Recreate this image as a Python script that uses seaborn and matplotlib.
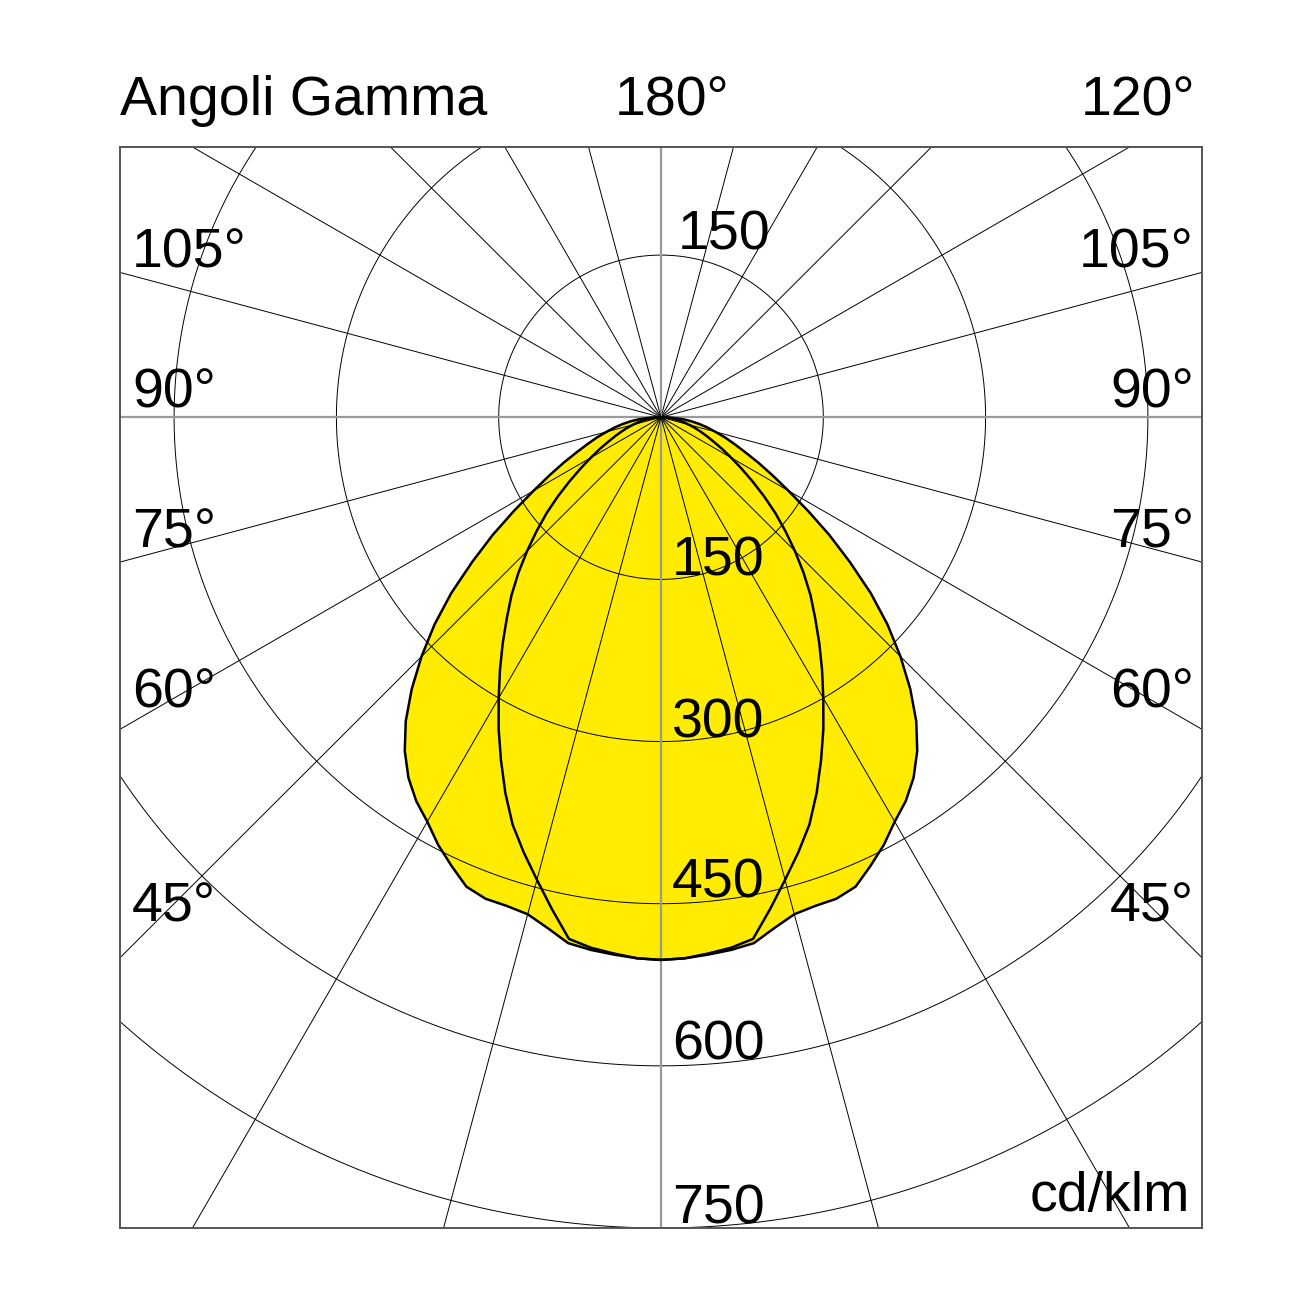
"""Photometric polar diagram (Angoli Gamma, cd/klm) redrawn with seaborn/matplotlib."""
import matplotlib

matplotlib.use("Agg")
import matplotlib.pyplot as plt
import numpy as np
import pandas as pd
import seaborn as sns

# gamma angles (deg) for one half of each plane, curves are mirrored left/right
gamma = [0, 2.5, 5, 7.5, 10, 12.5, 15, 17.5, 20, 22.5, 25, 27.5, 30, 32.5, 35, 37.5, 40, 42.5, 45,
         47.5, 50, 52.5, 55, 57.5, 60, 62.5, 65, 67.5, 70, 72.5, 75, 77.5, 80, 82.5, 85, 87.5, 90]
# wide curve (C0-C180)
c0_values = [502, 501, 499, 497, 494, 484, 476, 474, 474, 470, 458, 446, 432, 421, 407, 389, 367, 341, 313,
             284, 253, 220, 190, 161, 136, 116, 99, 84, 72, 62, 52, 44, 36, 28, 20, 10, 0]
# narrow curve (C90-C270)
c90_values = [502, 501, 498, 495, 490, 466, 443, 422, 401, 376, 350, 325, 300, 277, 255, 234, 215, 195, 175,
              156, 138, 120, 103, 88, 75, 64, 54, 46, 39, 33, 27, 22, 17, 12, 8, 4, 0]

rings = [150, 300, 450, 600, 750]
ring_labels = ["150", "300", "450", "600", "750"]
spoke_step = 15

angle_labels = ["105°", "90°", "75°", "60°", "45°"]
# baselines of the side angle labels, in pixels from the top of the image
angle_label_rows = [268, 407, 547, 707, 922]

W = H = 1302
YELLOW = "#FFEC00"


def polar_xy(g_deg, r):
    g = np.radians(g_deg)
    return np.asarray(r) * np.sin(g), -np.asarray(r) * np.cos(g)


def closed_curve(values):
    g = np.concatenate([-np.array(gamma[::-1]), np.array(gamma[1:])])
    r = np.concatenate([np.array(values[::-1]), np.array(values[1:])])
    x, y = polar_xy(g, r)
    return pd.DataFrame({"x": x, "y": y})


sns.set_style("white")
plt.rcParams["font.family"] = ["Liberation Sans", "DejaVu Sans"]

fig = plt.figure(figsize=(W / 100, H / 100), dpi=100)
ax = fig.add_axes([120 / W, 1 - 1228 / H, 1082 / W, 1081 / H])
ax.set_xlim(-500, 500)
ax.set_ylim(-750, 250)
ax.set_xticks([])
ax.set_yticks([])
for s in ax.spines.values():
    s.set_color("#555555")
    s.set_linewidth(1.4)

wide = closed_curve(c0_values)
narrow = closed_curve(c90_values)
ax.fill(wide["x"], wide["y"], color=YELLOW, lw=0, zorder=1)
ax.fill(narrow["x"], narrow["y"], color=YELLOW, lw=0, zorder=1)

# grid: rings and spokes
t = np.linspace(0, 360, 721)
for r in rings:
    x, y = polar_xy(t, r)
    ax.plot(x, y, color="black", lw=0.7, zorder=2)
for a in range(0, 360, spoke_step):
    x, y = polar_xy([a, a], [0, 1200])
    if a % 90 == 0:
        ax.plot(x, y, color="#999999", lw=1.6, zorder=2)
    else:
        ax.plot(x, y, color="black", lw=0.7, zorder=2)

sns.lineplot(data=wide, x="x", y="y", sort=False, estimator=None, color="black", lw=1.8, ax=ax, zorder=3)
sns.lineplot(data=narrow, x="x", y="y", sort=False, estimator=None, color="black", lw=1.8, ax=ax, zorder=3)
ax.set_xlabel("")
ax.set_ylabel("")


def ftext(px, py, s, ha="left"):
    fig.text(px / W, 1 - py / H, s, ha=ha, va="baseline", fontsize=40, color="black", zorder=5)


ftext(120, 115, "Angoli Gamma")
ftext(615, 115, "180°")
ftext(1195, 115, "120°", ha="right")

for lab, row in zip(angle_labels, angle_label_rows):
    ftext(132, row, lab)
    ftext(1194, row, lab, ha="right")

# ring values: top one above the centre, the rest along gamma 0
ftext(678, 250, ring_labels[0])
ring_rows = [575, 737, 898, 1060, 1223]
for lab, row in zip(ring_labels, ring_rows):
    ftext(672, row, lab)

ftext(1190, 1211, "cd/klm", ha="right")

fig.savefig("out.png", dpi=100, facecolor="white")
